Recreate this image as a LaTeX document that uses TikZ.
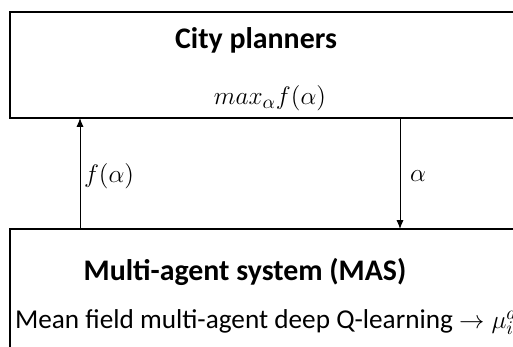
\documentclass[tikz,border=0pt]{standalone}
\usepackage{fontspec}
\setmainfont{Carlito}
\usepackage{tikz}
\usetikzlibrary{arrows.meta}
\usetikzlibrary{positioning}
\tikzstyle{base}=[inner sep=0pt, outer sep=0pt]
\tikzstyle{panel}=[draw=black, line width=1.1pt, fill=white, rectangle, anchor=north west]
\tikzstyle{title}=[font=\fontsize{17}{19}\selectfont\bfseries]
\tikzstyle{body}=[font=\fontsize{15.5}{18}\selectfont]
\tikzstyle{formula}=[font=\fontsize{15.5}{18}\selectfont]
\tikzstyle{flow}=[black, line width=0.5pt, -{Latex[length=5pt,width=4pt]}]

\begin{document}
\begin{tikzpicture}[base]
    \useasboundingbox (0,0) rectangle (10.26,6.94);
    \clip (0,0) rectangle (10.26,6.94);
        % upper and lower boxes, both run off the page
        \node [panel, minimum width=11cm, minimum height=2.12cm] (cityBox) at (0.2,6.70) {};
        \node [panel, minimum width=11cm, minimum height=3cm] (masBox) at (0.2,2.36) {};
        \node [title] (cityTitle) at (5.12,6.14) {City planners};
        \node [formula] (cityGoal) at (5.40,4.98) {$max_\alpha f(\alpha)$};
        \node [title] (masTitle) at (4.90,1.50) {Multi-agent system (MAS)};
        \node [body, anchor=west] (masMethod) at (0.30,0.50) {Mean field multi-agent deep Q-learning $\rightarrow \mu_i^a$};
        % feedback and control signals
        \draw [flow] ([xshift=1.4cm]masBox.north west) -- ([xshift=1.4cm]cityBox.south west);
        \draw [flow] ([xshift=7.8cm]cityBox.south west) -- ([xshift=7.8cm]masBox.north west);
        \node [formula, anchor=west] (upLabel) at (1.68,3.42) {$f(\alpha)$};
        \node [formula, anchor=west] (downLabel) at (8.20,3.42) {$\alpha$};
    \end{tikzpicture}
\end{document}
